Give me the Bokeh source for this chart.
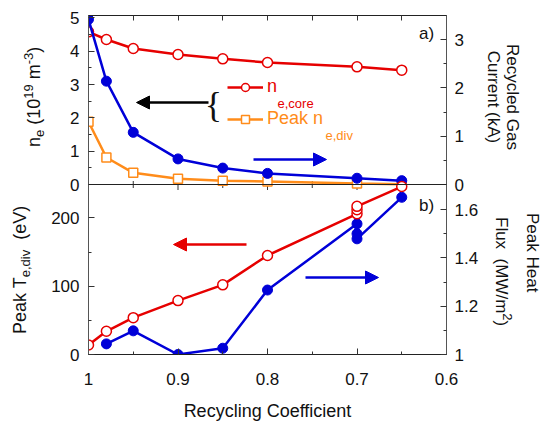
import math
from bokeh.plotting import figure
from bokeh.models import (Range1d, LinearAxis, FixedTicker, Label, Arrow, Span,
                          NormalHead, Legend, LegendItem, Div)
from bokeh.layouts import row
from bokeh.embed import file_html
from bokeh.resources import INLINE

# ---------------- data ----------------
recycling = [1.0, 0.98, 0.95, 0.9, 0.85, 0.8, 0.7, 0.65]
ne_core = [4.58, 4.35, 4.08, 3.90, 3.77, 3.66, 3.53, 3.43]
ne_div_peak = [1.88, 0.81, 0.35, 0.17, 0.11, 0.09, 0.03, 0.01]
gas_current = [3.42, 2.14, 1.08, 0.53, 0.34, 0.23, 0.13, 0.08]

recycling_te = [1.0, 0.98, 0.95, 0.9, 0.85, 0.8, 0.7, 0.7, 0.7, 0.65]
te_div_peak = [14, 34, 54, 79, 102, 145, 206, 212, 217, 246]
recycling_hf = [0.98, 0.95, 0.9, 0.85, 0.8, 0.7, 0.7, 0.7, 0.65]
heat_flux_peak = [1.044, 1.098, 1.0, 1.026, 1.267, 1.541, 1.50, 1.479, 1.651]

x_ticks = [1.0, 0.9, 0.8, 0.7, 0.6]
x_tick_labels = ["1", "0.9", "0.8", "0.7", "0.6"]
x_minor = [0.95, 0.85, 0.75, 0.65]
ne_ticks = [0, 1, 2, 3, 4, 5]
ne_tick_labels = ["0", "1", "2", "3", "4", "5"]
ne_minor = [0.5, 1.5, 2.5, 3.5, 4.5]
gas_ticks = [0, 1, 2, 3]
gas_tick_labels = ["0", "1", "2", "3"]
gas_minor = [0.5, 1.5, 2.5]
te_ticks = [0, 100, 200]
te_tick_labels = ["0", "100", "200"]
te_minor = [50, 150]
hf_ticks = [1.0, 1.2, 1.4, 1.6]
hf_tick_labels = ["1", "1.2", "1.4", "1.6"]
hf_minor = [1.1, 1.3, 1.5]

# panel value limits
ne_lim = (0.0, 5.07)
gas_lim = (0.0, 3.5)
te_lim = (0.0, 249.0)
hf_lim = (1.0, 1.704)

# ---------------- style / layout ----------------
FONT = "Liberation Sans"
RED = "#e60000"
BLUE = "#0000d8"
ORANGE = "#ff8c1a"
AXC = "#333333"
SPINE = "#555555"
TXT = "#111111"
TICK_FS = "17px"

FRAME_H = 339          # frame height in px
BOTTOM_H = 170         # bottom panel height in px
SPLIT = BOTTOM_H / FRAME_H


def top_full(lim):
    lo, hi = lim
    return (hi - (hi - lo) / (1 - SPLIT), hi)


def bottom_full(lim):
    lo, hi = lim
    return (lo, lo + (hi - lo) / SPLIT)


te_full = bottom_full(te_lim)
hf_full = bottom_full(hf_lim)
ne_full = top_full(ne_lim)
gas_full = top_full(gas_lim)


def remap(v, src, dst):
    return dst[0] + (v - src[0]) * (dst[1] - dst[0]) / (src[1] - src[0])


def style_axis(ax, major, minor, overrides=None, standoff=10, spine=AXC):
    ax.ticker = FixedTicker(ticks=major, minor_ticks=minor)
    ax.major_tick_in = 6
    ax.major_tick_out = 0
    ax.minor_tick_in = 3
    ax.minor_tick_out = 0
    ax.axis_line_color = spine
    ax.major_tick_line_color = AXC
    ax.minor_tick_line_color = AXC
    ax.major_label_text_font = FONT
    ax.major_label_text_color = TXT
    ax.major_label_text_font_size = TICK_FS
    ax.major_label_standoff = standoff
    if overrides:
        ax.major_label_overrides = overrides


def txt(x, y, text, size="18px", color=TXT, align="left", baseline="alphabetic",
        font=FONT):
    return Label(x=x, y=y, x_units="screen", y_units="screen", text=text,
                 text_font=font, text_font_size=size, text_color=color,
                 text_align=align, text_baseline=baseline)


p = figure(width=436, height=425, x_range=Range1d(1.0, 0.6), y_range=Range1d(*te_full),
           output_backend="svg", toolbar_location=None,
           min_border_left=42, min_border_right=36, min_border_top=15, min_border_bottom=71)
p.grid.visible = False
p.outline_line_color = "#222222"
p.background_fill_color = "white"
p.border_fill_color = "white"
p.extra_y_ranges = {"ne": Range1d(*ne_full), "gas": Range1d(*gas_full),
                    "hf": Range1d(*hf_full)}

# bottom x axis
style_axis(p.xaxis[0], x_ticks, x_minor, dict(zip(x_ticks, x_tick_labels)), standoff=18,
           spine="#222222")
p.xaxis[0].axis_label = "Recycling Coefficient"
p.xaxis[0].axis_label_text_font = FONT
p.xaxis[0].axis_label_text_font_size = "18px"
p.xaxis[0].axis_label_text_font_style = "normal"
p.xaxis[0].axis_label_text_color = TXT
p.xaxis[0].axis_label_standoff = 13

# top x axis: ticks only
ax_top = LinearAxis()
style_axis(ax_top, [], x_ticks + x_minor, spine="#222222")
ax_top.minor_tick_in = 5
p.add_layout(ax_top, "above")

# left axis: T_e (bottom panel) + n_e (top panel)
left_major = list(te_ticks) + [remap(v, ne_full, te_full) for v in ne_ticks]
left_minor = list(te_minor) + [remap(v, ne_full, te_full) for v in ne_minor]
left_labels = dict(zip(left_major, te_tick_labels + ne_tick_labels))
style_axis(p.yaxis[0], left_major, left_minor, left_labels, standoff=9, spine=SPINE)

# right axis: heat flux (bottom) + gas current (top)
ax_r = LinearAxis(y_range_name="hf")
right_major = list(hf_ticks) + [remap(v, gas_full, hf_full) for v in gas_ticks]
right_minor = list(hf_minor) + [remap(v, gas_full, hf_full) for v in gas_minor]
right_labels = dict(zip(right_major, hf_tick_labels + gas_tick_labels))
style_axis(ax_r, right_major, right_minor, right_labels, standoff=8, spine=SPINE)
p.add_layout(ax_r, "right")

# boundary between the two panels, with its ticks
p.add_layout(Span(location=te_lim[1], dimension="width", line_color="#222222",
                  line_width=1))
p.scatter(x_ticks, [te_lim[1]] * len(x_ticks), marker="dash", angle=math.pi / 2,
          size=11, line_color=AXC, line_width=1)
p.scatter(x_minor, [te_lim[1]] * len(x_minor), marker="dash", angle=math.pi / 2,
          size=7, line_color=AXC, line_width=1)

# ---- top panel series ----
r_div_l = p.line(recycling, ne_div_peak, y_range_name="ne", line_color=ORANGE, line_width=2.5)
r_div_s = p.scatter(recycling, ne_div_peak, y_range_name="ne", marker="square", size=9,
                    fill_color="white", line_color=ORANGE, line_width=1.5)
r_core_l = p.line(recycling, ne_core, y_range_name="ne", line_color=RED, line_width=2.5)
r_core_s = p.scatter(recycling, ne_core, y_range_name="ne", marker="circle", size=10,
                     fill_color="white", line_color=RED, line_width=1.5)
p.line(recycling, gas_current, y_range_name="gas", line_color=BLUE, line_width=2.5)
p.scatter(recycling, gas_current, y_range_name="gas", marker="circle", size=10,
          fill_color=BLUE, line_color=BLUE)

# ---- bottom panel series ----
p.line(recycling_hf, heat_flux_peak, y_range_name="hf", line_color=BLUE, line_width=2.5)
p.scatter(recycling_hf, heat_flux_peak, y_range_name="hf", marker="circle", size=10,
          fill_color=BLUE, line_color=BLUE)
p.line(recycling_te, te_div_peak, line_color=RED, line_width=2.5)
p.scatter(recycling_te, te_div_peak, marker="circle", size=10,
          fill_color="white", line_color=RED, line_width=1.5)

# ---- legend (two single-item legends so each text has its own colour) ----
for item, loc, col, rends in (("n", (139, 257), RED, [r_core_l, r_core_s]),
                              ("Peak n", (139, 225), ORANGE, [r_div_l, r_div_s])):
    leg = Legend(items=[LegendItem(label=item, renderers=rends)], location=loc,
                 glyph_width=36, glyph_height=20, label_height=20, label_standoff=4,
                 padding=0, margin=0, spacing=0, border_line_color=None,
                 background_fill_alpha=0, label_text_font=FONT,
                 label_text_font_size="18px", label_text_color=col)
    p.add_layout(leg, "center")
p.add_layout(txt(189, 251, "e,core", size="13px", color=RED))
p.add_layout(txt(237, 219, "e,div", size="13px", color=ORANGE))
p.add_layout(txt(125, 250, "{", size="36px", align="center", baseline="middle",
                 font="Liberation Serif"))


def arrow(x0, x1, y, col):
    return Arrow(x_start=x0, y_start=y, x_end=x1, y_end=y,
                 start_units="screen", end_units="screen",
                 line_color=col, line_width=2.5,
                 end=NormalHead(size=13, fill_color=col, line_color=col))


p.add_layout(arrow(120, 48, 252, "black"))
p.add_layout(arrow(165, 238, 195, BLUE))
p.add_layout(arrow(158, 85, 110, RED))
p.add_layout(arrow(217, 290, 77, BLUE))
p.add_layout(txt(338, 321, "a)", size="17px", align="center", baseline="middle"))
p.add_layout(txt(338, 149, "b)", size="17px", align="center", baseline="middle"))

# ---- rotated axis titles (HTML text beside the plot) ----
SUB = "font-size:13px;position:relative;top:4px;line-height:0;"
SUP = "font-size:13px;position:relative;top:-7px;line-height:0;"
ROT_L = ("position:absolute;transform-origin:0 0;transform:rotate(-90deg);"
         "white-space:nowrap;font-size:18px;line-height:18px;")
ROT_R = ("position:absolute;transform-origin:0 0;transform:rotate(90deg);"
         "white-space:nowrap;font-size:17px;line-height:17px;")
BOX = ("position:relative;width:{w}px;height:425px;font-family:'Liberation Sans',"
       "Arial,sans-serif;color:#111111;")

left_html = (
    f"<div style=\"{BOX.format(w=46)}\">"
    f"<div style=\"{ROT_L}left:24.8px;top:147px;\">n<span style=\"{SUB}\">e</span>"
    f"&nbsp;(10<span style=\"{SUP}\">19</span>&nbsp;m<span style=\"{SUP}\">-3</span>)</div>"
    f"<div style=\"{ROT_L}left:10.8px;top:334px;\">Peak T<span style=\"{SUB}\">e,div</span>"
    f"&nbsp;&nbsp;(eV)</div>"
    "</div>")
right_html = (
    f"<div style=\"{BOX.format(w=60)}\">"
    f"<div style=\"{ROT_R}left:39.3px;top:17px;width:160px;text-align:center;\">Recycled Gas</div>"
    f"<div style=\"{ROT_R}left:20.3px;top:17px;width:160px;text-align:center;\">Current (kA)</div>"
    f"<div style=\"{ROT_R}left:58.8px;top:213px;\">Peak Heat</div>"
    f"<div style=\"{ROT_R}left:27.8px;top:217px;\">Flux&nbsp;&nbsp;(MW/m<span style=\"{SUP}\">2</span>)</div>"
    "</div>")

div_l = Div(text=left_html, width=46, height=425, margin=(0, 0, 0, 0))
div_r = Div(text=right_html, width=60, height=425, margin=(0, 0, 0, 0))

layout = row(div_l, p, div_r)
open("out.html", "w").write(file_html(layout, INLINE))
